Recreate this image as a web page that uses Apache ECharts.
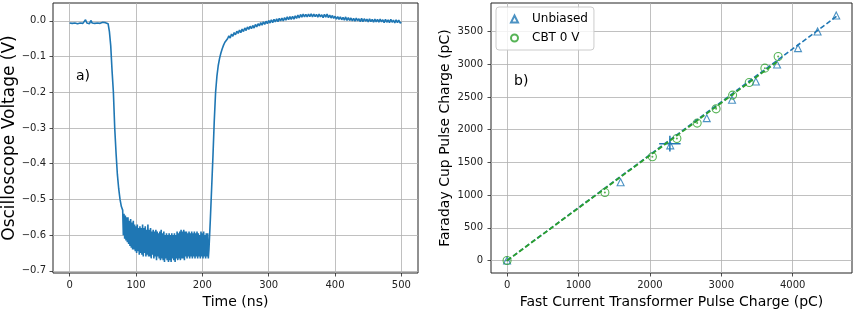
<!DOCTYPE html>
<html><head><meta charset="utf-8">
<script src="https://cdn.jsdelivr.net/npm/echarts@6/dist/echarts.min.js"></script>
<style>html,body{margin:0;padding:0;background:#fff}#c{width:858px;height:310px}</style>
</head><body><div id="c"></div><script>
// ---- Panel a) oscilloscope trace ----
const timeNs = [
0,2,4,6,8,10,12,14,16,18,
20,22,24,26,28,30,32,34,36,38,
40,42,44,46,48,50,52,54,56,58,
60,62,64,66,68,70,72,74,76,78,
80,81,82,83,84,85,86,87,88,89,
90,91,92,93,94,95,96,97,98,99,
100,101,102,103,104,105,106,107,108,109,
110,111,112,113,114,115,116,117,118,119,
120,121,122,123,124,125,126,127,128,129,
130,131,132,133,134,135,136,137,138,139,
140,141,142,143,144,145,146,147,148,149,
150,151,152,153,154,155,156,157,158,159,
160,161,162,163,164,165,166,167,168,169,
170,171,172,173,174,175,176,177,178,179,
180,181,182,183,184,185,186,187,188,189,
190,191,192,193,194,195,196,197,198,199,
200,201,202,203,204,205,206,207,208,209,
210,
212,214,216,218,
220,222,224,226,228,230,232,234,236,238,
240,242,244,246,248,250,252,254,256,258,
260,262,264,266,268,270,272,274,276,278,
280,282,284,286,288,290,292,294,296,298,
300,302,304,306,308,310,312,314,316,318,
320,322,324,326,328,330,332,334,336,338,
340,342,344,346,348,350,352,354,356,358,
360,362,364,366,368,370,372,374,376,378,
380,382,384,386,388,390,392,394,396,398,
400,402,404,406,408,410,412,414,416,418,
420,422,424,426,428,430,432,434,436,438,
440,442,444,446,448,450,452,454,456,458,
460,462,464,466,468,470,472,474,476,478,
480,482,484,486,488,490,492,494,496,498,
500];
const voltageV = [
-0.006,-0.004,-0.007,-0.003,-0.006,-0.005,-0.008,-0.004,-0.006,-0.002,
-0.007,-0.005,0.003,-0.006,-0.004,-0.008,0.001,-0.006,-0.005,-0.007,
-0.004,-0.006,-0.003,-0.007,-0.005,-0.004,-0.008,-0.005,-0.006,-0.008,
-0.03,-0.07,-0.14,-0.2,-0.3,-0.37,-0.43,-0.47,-0.5,-0.52,
-0.53,-0.6,-0.54,-0.61,-0.545,-0.615,-0.55,-0.62,-0.55,-0.625,
-0.56,-0.63,-0.555,-0.635,-0.565,-0.64,-0.56,-0.64,-0.57,-0.645,
-0.575,-0.65,-0.57,-0.645,-0.58,-0.655,-0.575,-0.65,-0.58,-0.655,
-0.57,-0.66,-0.58,-0.65,-0.575,-0.66,-0.585,-0.655,-0.57,-0.66,
-0.585,-0.66,-0.58,-0.665,-0.59,-0.655,-0.585,-0.665,-0.59,-0.66,
-0.585,-0.67,-0.59,-0.66,-0.595,-0.665,-0.59,-0.67,-0.585,-0.665,
-0.595,-0.67,-0.59,-0.675,-0.6,-0.665,-0.595,-0.67,-0.6,-0.675,
-0.595,-0.67,-0.6,-0.675,-0.595,-0.665,-0.6,-0.67,-0.595,-0.675,
-0.6,-0.665,-0.59,-0.67,-0.595,-0.665,-0.59,-0.67,-0.585,-0.665,
-0.59,-0.665,-0.585,-0.67,-0.59,-0.66,-0.59,-0.665,-0.595,-0.66,
-0.59,-0.665,-0.595,-0.66,-0.59,-0.665,-0.595,-0.66,-0.59,-0.665,
-0.595,-0.66,-0.59,-0.665,-0.595,-0.66,-0.6,-0.665,-0.59,-0.66,
-0.595,-0.665,-0.59,-0.66,-0.6,-0.665,-0.595,-0.66,-0.595,-0.665,
-0.64,
-0.56,-0.47,-0.38,-0.28,
-0.2,-0.155,-0.125,-0.105,-0.09,-0.078,-0.068,-0.06,-0.055,-0.05,
-0.042,-0.048,-0.037,-0.043,-0.033,-0.039,-0.029,-0.035,-0.026,-0.033,
-0.023,-0.03,-0.02,-0.027,-0.017,-0.024,-0.015,-0.022,-0.013,-0.02,
-0.01,-0.017,-0.008,-0.014,-0.005,-0.012,-0.003,-0.01,-0.001,-0.008,
0.001,-0.006,0.003,-0.005,0.004,-0.003,0.006,-0.002,0.007,0.0,
0.008,0.0,0.009,0.002,0.011,0.003,0.012,0.004,0.013,0.005,
0.014,0.007,0.016,0.008,0.018,0.01,0.019,0.011,0.018,0.011,
0.019,0.012,0.02,0.011,0.019,0.012,0.018,0.01,0.019,0.011,
0.017,0.009,0.018,0.01,0.019,0.009,0.016,0.008,0.015,0.007,
0.013,0.005,0.012,0.004,0.011,0.003,0.01,0.002,0.011,0.001,
0.009,0.001,0.008,0.0,0.007,-0.001,0.008,0.0,0.006,-0.002,
0.007,-0.002,0.006,-0.001,0.005,-0.003,0.006,-0.002,0.004,-0.004,
0.005,-0.003,0.004,-0.004,0.005,-0.003,0.003,-0.005,0.004,-0.004,
0.003,-0.005,0.004,-0.004,0.002,-0.006,0.003,-0.005,0.002,-0.006,
-0.004];
const leftXTicks = [0, 100, 200, 300, 400, 500];
const leftYTicks = [-0.7, -0.6, -0.5, -0.4, -0.3, -0.2, -0.1, 0];

// ---- Panel b) charge comparison ----
const unbiasedX = [0, 1590, 2285, 2796, 3150, 3484, 3781, 4074, 4348, 4609];
const unbiasedY = [0, 1197, 1760, 2176, 2456, 2736, 2996, 3245, 3500, 3744];
const cbtX = [0, 1370, 2035, 2378, 2662, 2927, 3158, 3391, 3610, 3796];
const cbtY = [0, 1039, 1585, 1865, 2100, 2318, 2528, 2720, 2940, 3118];
const unbiasedFitX = [0, 4620];
const unbiasedFitY = [0, 3735];
const cbtFitX = [0, 3810];
const cbtFitY = [0, 3060];
const errBarCenter = [2280, 1785];
const errBarHalf = [150, 120];
const rightXTicks = [0, 1000, 2000, 3000, 4000];
const rightYTicks = [0, 500, 1000, 1500, 2000, 2500, 3000, 3500];

const FONT = 'DejaVu Sans';
const BLUE = '#1f77b4', GREEN = '#2ca02c';
const zip = (xs, ys) => xs.map((x, i) => [x, ys[i]]);

function axisCommon(ticks, fmt, margin) {
  return {
    type: 'value',
    nameLocation: 'middle',
    nameTextStyle: { fontSize: 14, color: '#000', fontFamily: FONT },
    axisLine: { show: false, onZero: false },
    axisTick: { show: true, inside: false, length: 3.5, customValues: ticks, lineStyle: { color: '#222', width: 0.8 } },
    axisLabel: { customValues: ticks, fontSize: 10, color: '#222', fontFamily: FONT, margin: margin, formatter: fmt },
    splitLine: { show: true, lineStyle: { color: '#b0b0b0', width: 0.8 } }
  };
}

const chart = echarts.init(document.getElementById('c'), null, { renderer: 'canvas', width: 858, height: 310 });
const option = {
  backgroundColor: '#fff',
  animation: false,
  textStyle: { fontFamily: FONT },
  grid: [
    { left: 53, top: 3, width: 365, height: 270, containLabel: false, outerBoundsMode: 'none', show: true, borderColor: '#222', borderWidth: 1, backgroundColor: 'transparent' },
    { left: 491, top: 3, width: 361, height: 270, containLabel: false, outerBoundsMode: 'none', show: true, borderColor: '#222', borderWidth: 1, backgroundColor: 'transparent' }
  ],
  xAxis: [
    Object.assign(axisCommon(leftXTicks, v => String(v), 7), { gridIndex: 0, min: -25, max: 525, name: 'Time (ns)', nameGap: 22 }),
    Object.assign(axisCommon(rightXTicks, v => String(v), 7), { gridIndex: 1, min: -225, max: 4830, name: 'Fast Current Transformer Pulse Charge (pC)', nameGap: 22 })
  ],
  yAxis: [
    Object.assign(axisCommon(leftYTicks, v => (Math.abs(v) < 1e-9 ? '0.0' : (v < 0 ? '\u2212' : '') + Math.abs(v).toFixed(1)), 7),
      { gridIndex: 0, min: -0.706, max: 0.05, name: 'Oscilloscope Voltage (V)', nameGap: 35, nameTextStyle: { fontSize: 17, color: '#000', fontFamily: FONT } }),
    Object.assign(axisCommon(rightYTicks, v => String(v), 8), { gridIndex: 1, min: -190, max: 3935, name: 'Faraday Cup Pulse Charge (pC)', nameGap: 39 })
  ],
  legend: {
    data: ['Unbiased', 'CBT 0 V'],
    orient: 'vertical',
    left: 496, top: 7,
    padding: [6, 6, 6, 14],
    itemWidth: 7, itemHeight: 7, itemGap: 7,
    textStyle: { fontSize: 12, color: '#000', fontFamily: FONT, padding: [0, 0, 0, 9] },
    backgroundColor: 'rgba(255,255,255,0.8)',
    borderColor: '#cccccc', borderWidth: 1, borderRadius: 3
  },
  graphic: [
    { type: 'text', x: 76, y: 76, style: { text: 'a)', font: '14px "DejaVu Sans"', fill: '#000', verticalAlign: 'middle' } },
    { type: 'text', x: 514, y: 81, style: { text: 'b)', font: '14px "DejaVu Sans"', fill: '#000', verticalAlign: 'middle' } }
  ],
  series: [
    {
      type: 'line', name: 'trace', xAxisIndex: 0, yAxisIndex: 0,
      data: zip(timeNs, voltageV), showSymbol: false, symbol: 'none',
      lineStyle: { color: BLUE, width: 1.6 }, clip: true
    },
    {
      type: 'line', name: 'Unbiased fit', xAxisIndex: 1, yAxisIndex: 1,
      data: zip(unbiasedFitX, unbiasedFitY), showSymbol: false, symbol: 'none',
      lineStyle: { color: BLUE, width: 1.6, type: [5, 2.5] }
    },
    {
      type: 'scatter', name: 'Unbiased', xAxisIndex: 1, yAxisIndex: 1,
      data: zip(unbiasedX, unbiasedY), symbol: 'triangle', symbolSize: 7,
      itemStyle: { color: 'rgba(0,0,0,0)', borderColor: BLUE, borderWidth: 1.1 }
    },
    {
      type: 'scatter', name: 'CBT 0 V', xAxisIndex: 1, yAxisIndex: 1,
      data: zip(cbtX, cbtY), symbol: 'circle', symbolSize: 8,
      itemStyle: { color: 'rgba(0,0,0,0)', borderColor: GREEN, borderWidth: 1.1 }
    },
    {
      type: 'scatter', name: 'CBT 0 V centre', xAxisIndex: 1, yAxisIndex: 1,
      data: zip(cbtX, cbtY), symbol: 'circle', symbolSize: 2,
      itemStyle: { color: GREEN }, silent: true
    },
    {
      type: 'line', name: 'CBT fit', xAxisIndex: 1, yAxisIndex: 1,
      data: zip(cbtFitX, cbtFitY), showSymbol: false, symbol: 'none',
      lineStyle: { color: GREEN, width: 1.8, type: [5, 2.5] }
    },
    {
      type: 'custom', name: 'errbar', xAxisIndex: 1, yAxisIndex: 1,
      data: [[errBarCenter[0], errBarCenter[1], errBarHalf[0], errBarHalf[1]]],
      encode: { x: 0, y: 1 },
      renderItem: function (params, api) {
        const x = api.value(0), y = api.value(1), dx = api.value(2), dy = api.value(3);
        const l = api.coord([x - dx, y]), r = api.coord([x + dx, y]);
        const b = api.coord([x, y - dy]), t = api.coord([x, y + dy]);
        const st = { stroke: BLUE, lineWidth: 1.5 };
        return { type: 'group', children: [
          { type: 'line', shape: { x1: l[0], y1: l[1], x2: r[0], y2: r[1] }, style: st },
          { type: 'line', shape: { x1: b[0], y1: b[1], x2: t[0], y2: t[1] }, style: st }
        ] };
      }
    }
  ]
};
chart.setOption(option);
</script></body></html>
